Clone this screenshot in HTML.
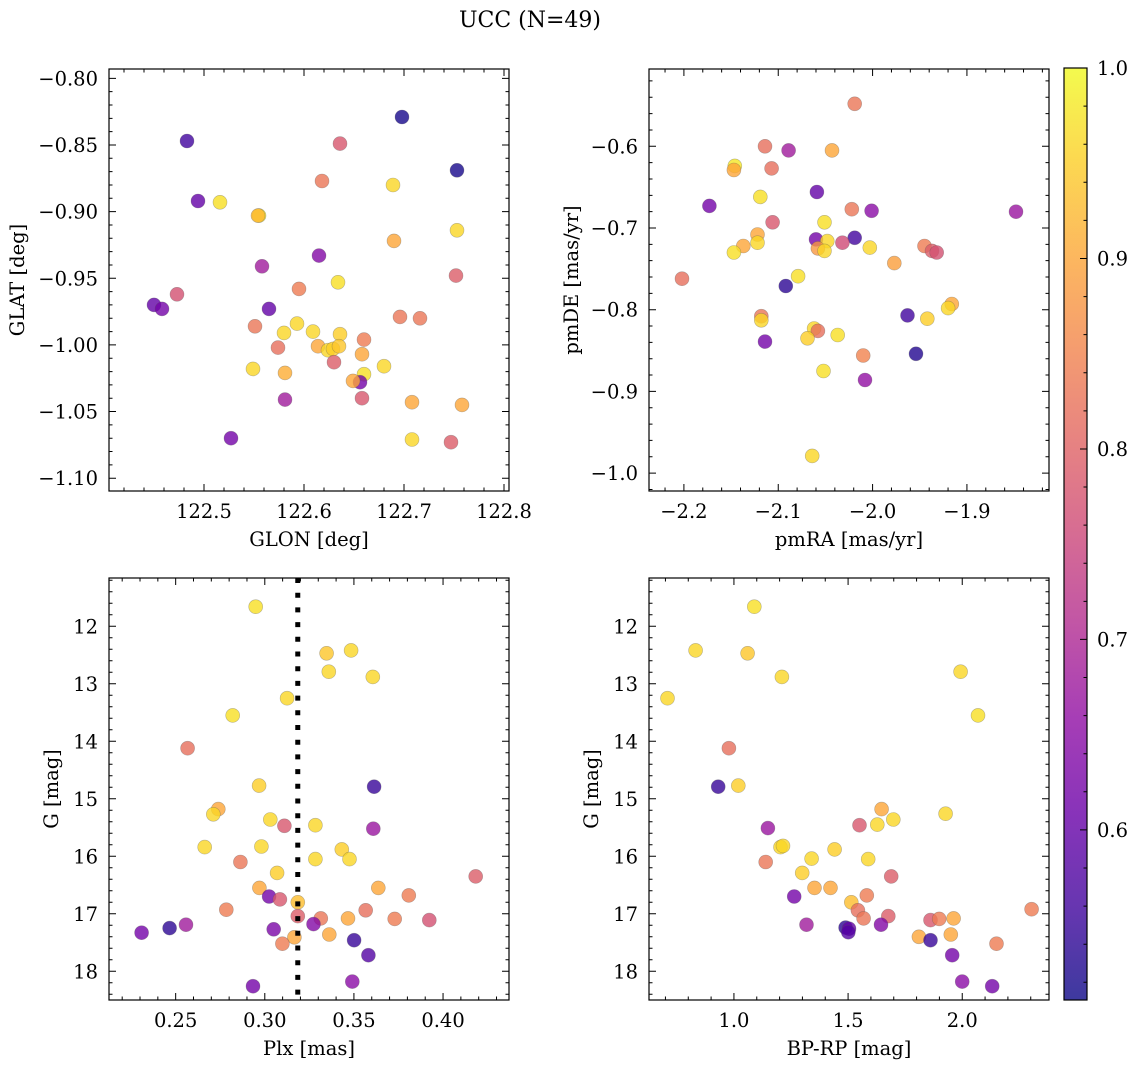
<!DOCTYPE html>
<html><head><meta charset="utf-8">
<style>
html,body{margin:0;padding:0;background:#fff;}
svg{display:block;font-family:"DejaVu Serif","Liberation Serif",serif;}
</style></head>
<body>
<svg id="fig" width="1136" height="1068" viewBox="0 0 1136 1068" xmlns="http://www.w3.org/2000/svg">
<defs>
<linearGradient id="plasma" x1="0" y1="1" x2="0" y2="0">
<stop offset="0" stop-color="#0d0887"/><stop offset="0.1" stop-color="#41049d"/><stop offset="0.2" stop-color="#6a00a8"/><stop offset="0.3" stop-color="#8f0da4"/><stop offset="0.4" stop-color="#b12a90"/><stop offset="0.5" stop-color="#cc4778"/><stop offset="0.6" stop-color="#e16462"/><stop offset="0.7" stop-color="#f2844b"/><stop offset="0.8" stop-color="#fca636"/><stop offset="0.9" stop-color="#fcce25"/><stop offset="1" stop-color="#f0f921"/>
</linearGradient>
</defs>
<text x="530" y="27" font-size="22" text-anchor="middle">UCC (N=49)</text>
</svg>
<script>
// ---- data ----
const glon=[122.483,122.636,122.698,122.753,122.494,122.516,122.555,122.554,122.618,122.689,122.753,122.690,122.615,122.558,122.634,122.752,122.473,122.450,122.458,122.565,122.595,122.551,122.696,122.716,122.580,122.593,122.609,122.636,122.660,122.574,122.614,122.624,122.629,122.635,122.630,122.658,122.549,122.581,122.680,122.660,122.656,122.649,122.581,122.658,122.708,122.758,122.527,122.708,122.747];
const glat=[-0.847,-0.849,-0.829,-0.869,-0.892,-0.893,-0.903,-0.903,-0.877,-0.880,-0.914,-0.922,-0.933,-0.941,-0.953,-0.948,-0.962,-0.970,-0.973,-0.973,-0.958,-0.986,-0.979,-0.980,-0.991,-0.984,-0.990,-0.992,-0.996,-1.002,-1.001,-1.004,-1.003,-1.001,-1.013,-1.007,-1.018,-1.021,-1.016,-1.022,-1.028,-1.027,-1.041,-1.040,-1.043,-1.045,-1.070,-1.071,-1.073];
const probA=[0.56,0.78,0.52,0.52,0.60,0.97,0.98,0.92,0.83,0.96,0.96,0.90,0.64,0.68,0.97,0.79,0.77,0.60,0.62,0.60,0.84,0.83,0.83,0.83,0.96,0.96,0.96,0.95,0.84,0.82,0.90,0.96,0.95,0.94,0.79,0.90,0.96,0.91,0.96,0.97,0.62,0.90,0.68,0.78,0.90,0.90,0.62,0.96,0.79];

const pmra=[-2.019,-2.114,-2.089,-2.043,-2.146,-2.147,-2.107,-2.059,-2.173,-2.119,-2.022,-2.001,-1.848,-2.106,-2.051,-2.122,-2.060,-2.048,-2.019,-2.032,-2.137,-2.122,-2.147,-2.058,-2.051,-2.003,-1.945,-1.937,-1.932,-1.977,-2.202,-2.079,-2.092,-2.118,-2.118,-1.963,-1.942,-1.916,-1.920,-2.114,-2.062,-2.058,-2.069,-2.037,-2.010,-1.954,-2.052,-2.008,-2.064];
const pmde=[-0.548,-0.600,-0.605,-0.605,-0.624,-0.629,-0.627,-0.656,-0.673,-0.662,-0.677,-0.679,-0.680,-0.693,-0.693,-0.708,-0.714,-0.716,-0.712,-0.718,-0.722,-0.718,-0.730,-0.725,-0.728,-0.724,-0.722,-0.728,-0.730,-0.743,-0.762,-0.759,-0.771,-0.808,-0.813,-0.807,-0.811,-0.793,-0.798,-0.839,-0.823,-0.826,-0.835,-0.831,-0.856,-0.854,-0.875,-0.886,-0.979];
const probB=[0.83,0.82,0.68,0.90,0.98,0.90,0.82,0.60,0.62,0.97,0.83,0.65,0.67,0.78,0.97,0.90,0.62,0.96,0.56,0.76,0.90,0.96,0.97,0.88,0.96,0.96,0.84,0.79,0.77,0.89,0.82,0.97,0.54,0.83,0.96,0.56,0.95,0.90,0.96,0.62,0.96,0.82,0.95,0.97,0.85,0.53,0.97,0.66,0.96];

const plx=[0.2949,0.3347,0.3484,0.3359,0.3606,0.3125,0.2820,0.2567,0.2968,0.3613,0.2739,0.2711,0.3031,0.3110,0.3284,0.3609,0.2663,0.2981,0.3432,0.3284,0.3475,0.2863,0.3069,0.4183,0.2970,0.3637,0.3024,0.3085,0.3808,0.3185,0.2784,0.3566,0.3185,0.3314,0.3467,0.3729,0.3923,0.2558,0.3273,0.2309,0.2466,0.3050,0.3166,0.3362,0.3099,0.3501,0.3581,0.2934,0.3491];
const gmagC=[11.66,12.47,12.42,12.79,12.88,13.25,13.55,14.12,14.77,14.79,15.18,15.27,15.36,15.47,15.46,15.52,15.84,15.83,15.88,16.05,16.05,16.10,16.29,16.35,16.55,16.55,16.70,16.75,16.68,16.80,16.93,16.94,17.04,17.08,17.08,17.09,17.11,17.19,17.18,17.33,17.25,17.27,17.41,17.36,17.52,17.46,17.72,18.26,18.18];
const probC=[0.97,0.94,0.96,0.96,0.96,0.96,0.97,0.82,0.95,0.55,0.90,0.96,0.96,0.78,0.96,0.67,0.96,0.96,0.95,0.96,0.96,0.83,0.95,0.79,0.90,0.90,0.62,0.78,0.84,0.93,0.84,0.82,0.79,0.83,0.90,0.84,0.77,0.68,0.64,0.62,0.54,0.63,0.90,0.90,0.84,0.55,0.58,0.62,0.65];
const plxMean=[0.3185];

const bprp=[1.089,0.832,1.060,1.210,0.709,1.993,2.069,0.978,0.931,1.019,1.647,1.927,1.698,1.550,1.628,1.149,1.204,1.215,1.441,1.340,1.588,1.139,1.299,1.689,1.353,1.423,1.264,1.582,1.514,1.543,1.568,1.676,1.861,1.899,1.962,2.304,1.318,1.644,1.489,1.504,1.501,1.810,1.950,1.861,2.150,1.956,2.000,2.131];
const gmagD=[11.66,12.42,12.47,12.88,13.25,12.79,13.55,14.12,14.79,14.77,15.18,15.26,15.36,15.46,15.45,15.51,15.84,15.82,15.88,16.04,16.05,16.10,16.29,16.35,16.55,16.55,16.70,16.68,16.80,16.94,17.08,17.04,17.11,17.09,17.08,16.92,17.19,17.19,17.24,17.26,17.32,17.40,17.36,17.46,17.52,17.72,18.18,18.26];
const probD=[0.97,0.96,0.94,0.96,0.96,0.96,0.97,0.82,0.55,0.95,0.90,0.96,0.96,0.78,0.96,0.67,0.96,0.96,0.95,0.96,0.96,0.83,0.95,0.79,0.90,0.90,0.62,0.84,0.93,0.82,0.83,0.79,0.78,0.84,0.90,0.84,0.68,0.64,0.54,0.60,0.58,0.90,0.90,0.55,0.84,0.62,0.65,0.62];

const cbTicks=[0.6,0.7,0.8,0.9,1.0];
const cbRange=[0.5107,1.0];

// ---- helpers ----
const NS="http://www.w3.org/2000/svg";
const svg=document.getElementById('fig');
const FS=19.5;
function mk(tag,attrs,parent){const e=document.createElementNS(NS,tag);for(const k in attrs)e.setAttribute(k,attrs[k]);(parent||svg).appendChild(e);return e;}
const stops=[[13,8,135],[65,4,157],[106,0,168],[143,13,164],[177,42,144],[204,71,120],[225,100,98],[242,132,75],[252,166,54],[252,206,37],[240,249,33]];
function cmap(v){let t=(v-cbRange[0])/(cbRange[1]-cbRange[0]);t=Math.max(0,Math.min(1,t))*10;const i=Math.min(9,Math.floor(t)),f=t-i;const a=stops[i],b=stops[i+1];return 'rgb('+a.map((c,k)=>Math.round(c+(b[k]-c)*f)).join(',')+')';}
function fmt(v,d){const s=Math.abs(v).toFixed(d);return (v<-1e-9?'\u2212':'')+s;}

function panel(cfg){
  const {name,L,T,W,H,x0,x1,y0,y1,invY}=cfg;
  const sx=v=>L+(v-x0)/(x1-x0)*W;
  const sy=invY?(v=>T+(v-y0)/(y1-y0)*H):(v=>T+H-(v-y0)/(y1-y0)*H);
  const g=mk('g',{});
  
  
  const pg=mk('g',{},g);
  
  
  cfg.xs.forEach((xv,i)=>{
    const c=mk('circle',{cx:sx(xv).toFixed(1),cy:sy(cfg.ys[i]).toFixed(1),r:7,fill:cmap(cfg.ps[i]),'fill-opacity':0.8,stroke:'#555','stroke-opacity':0.4,'stroke-width':0.6},pg);
    
    
  });
  if(cfg.vline!==undefined){
    const ln=mk('line',{x1:sx(cfg.vline),x2:sx(cfg.vline),y1:T,y2:T+H,stroke:'#000','stroke-width':5,'stroke-dasharray':'5 9.7'},g);
    
    
  }
  const fr=mk('rect',{x:L,y:T,width:W,height:H,fill:'none',stroke:'#000','stroke-width':1.2},g);
  
  
  let d='';
  const eps=1e-9;
  const xa=Math.min(x0,x1),xb=Math.max(x0,x1);
  for(let k=Math.ceil(xa/cfg.xmin-eps);k*cfg.xmin<=xb+eps;k++){const v=k*cfg.xmin;const px=sx(v);const maj=Math.abs(v/cfg.xmaj-Math.round(v/cfg.xmaj))<1e-6;const len=maj?7:3.5;d+=`M${px} ${T+H}v${-len}M${px} ${T}v${len}`;}
  const ya=Math.min(y0,y1),yb=Math.max(y0,y1);
  for(let k=Math.ceil(ya/cfg.ymin-eps);k*cfg.ymin<=yb+eps;k++){const v=k*cfg.ymin;const py=sy(v);const maj=Math.abs(v/cfg.ymaj-Math.round(v/cfg.ymaj))<1e-6;const len=maj?7:3.5;d+=`M${L} ${py}h${len}M${L+W} ${py}h${-len}`;}
  const tk=mk('path',{d:d,stroke:'#000','stroke-width':1,fill:'none'},g);
  
  
  cfg.xticks.forEach(v=>{const t=mk('text',{x:sx(v),y:T+H+27,'font-size':FS,'text-anchor':'middle'},g);t.textContent=fmt(v,cfg.xd);
    
    });
  cfg.yticks.forEach(v=>{const t=mk('text',{x:L-11,y:sy(v)+7,'font-size':FS,'text-anchor':'end'},g);t.textContent=fmt(v,cfg.yd);
    
    });
  const xl=mk('text',{x:L+W/2,y:T+H+55,'font-size':FS,'text-anchor':'middle'},g);xl.textContent=cfg.xlabel;
  
  
  const yl=mk('text',{x:0,y:0,'font-size':FS,'text-anchor':'middle',transform:`translate(${cfg.ylx},${T+H/2}) rotate(-90)`},g);yl.textContent=cfg.ylabel;
  
  
}

panel({name:'glon-glat-panel',L:109,T:69,W:400,H:422,x0:122.405,x1:122.805,y0:-1.1096,y1:-0.793,xs:glon,ys:glat,ps:probA,
  xmaj:0.1,xmin:0.02,ymaj:0.05,ymin:0.01,xticks:[122.5,122.6,122.7,122.8],yticks:[-0.80,-0.85,-0.90,-0.95,-1.00,-1.05,-1.10],xd:1,yd:2,
  xlabel:'GLON [deg]',ylabel:'GLAT [deg]',ylx:24});
panel({name:'pm-panel',L:649,T:69,W:400,H:422,x0:-2.237,x1:-1.813,y0:-1.0219,y1:-0.5054,xs:pmra,ys:pmde,ps:probB,
  xmaj:0.1,xmin:0.02,ymaj:0.1,ymin:0.02,xticks:[-2.2,-2.1,-2.0,-1.9],yticks:[-0.6,-0.7,-0.8,-0.9,-1.0],xd:1,yd:1,
  xlabel:'pmRA [mas/yr]',ylabel:'pmDE [mas/yr]',ylx:578});
panel({name:'plx-g-panel',L:109,T:578,W:400,H:422,x0:0.2126,x1:0.437,y0:11.16,y1:18.50,invY:true,xs:plx,ys:gmagC,ps:probC,vline:plxMean[0],
  xmaj:0.05,xmin:0.01,ymaj:1,ymin:0.2,xticks:[0.25,0.30,0.35,0.40],yticks:[12,13,14,15,16,17,18],xd:2,yd:0,
  xlabel:'Plx [mas]',ylabel:'G [mag]',ylx:58});
panel({name:'cmd-panel',L:649,T:578,W:400,H:422,x0:0.628,x1:2.380,y0:11.16,y1:18.50,invY:true,xs:bprp,ys:gmagD,ps:probD,
  xmaj:0.5,xmin:0.1,ymaj:1,ymin:0.2,xticks:[1.0,1.5,2.0],yticks:[12,13,14,15,16,17,18],xd:1,yd:0,
  xlabel:'BP-RP [mag]',ylabel:'G [mag]',ylx:598});

(function(){
  const L=1064,T=68,W=23,H=932;
  const sy=v=>T+H-(v-cbRange[0])/(cbRange[1]-cbRange[0])*H;
  const g=mk('g',{});
  
  
  const r=mk('rect',{x:L,y:T,width:W,height:H,fill:'url(#plasma)','fill-opacity':0.8},g);
  
  
  const f=mk('rect',{x:L,y:T,width:W,height:H,fill:'none',stroke:'#000','stroke-width':1.2},g);
  
  
  let d='';
  for(let k=26;k<=50;k++){const v=k*0.02;if(v<cbRange[0])continue;const maj=k%5===0;d+=`M${L+W} ${sy(v)}h${maj?-7:-3.5}`;}
  const tk=mk('path',{d:d,stroke:'#000','stroke-width':1},g);
  
  
  cbTicks.forEach(v=>{const t=mk('text',{x:L+W+10,y:sy(v)+7,'font-size':FS},g);t.textContent=v.toFixed(1);
    
    });
})();
</script>
</body></html>
